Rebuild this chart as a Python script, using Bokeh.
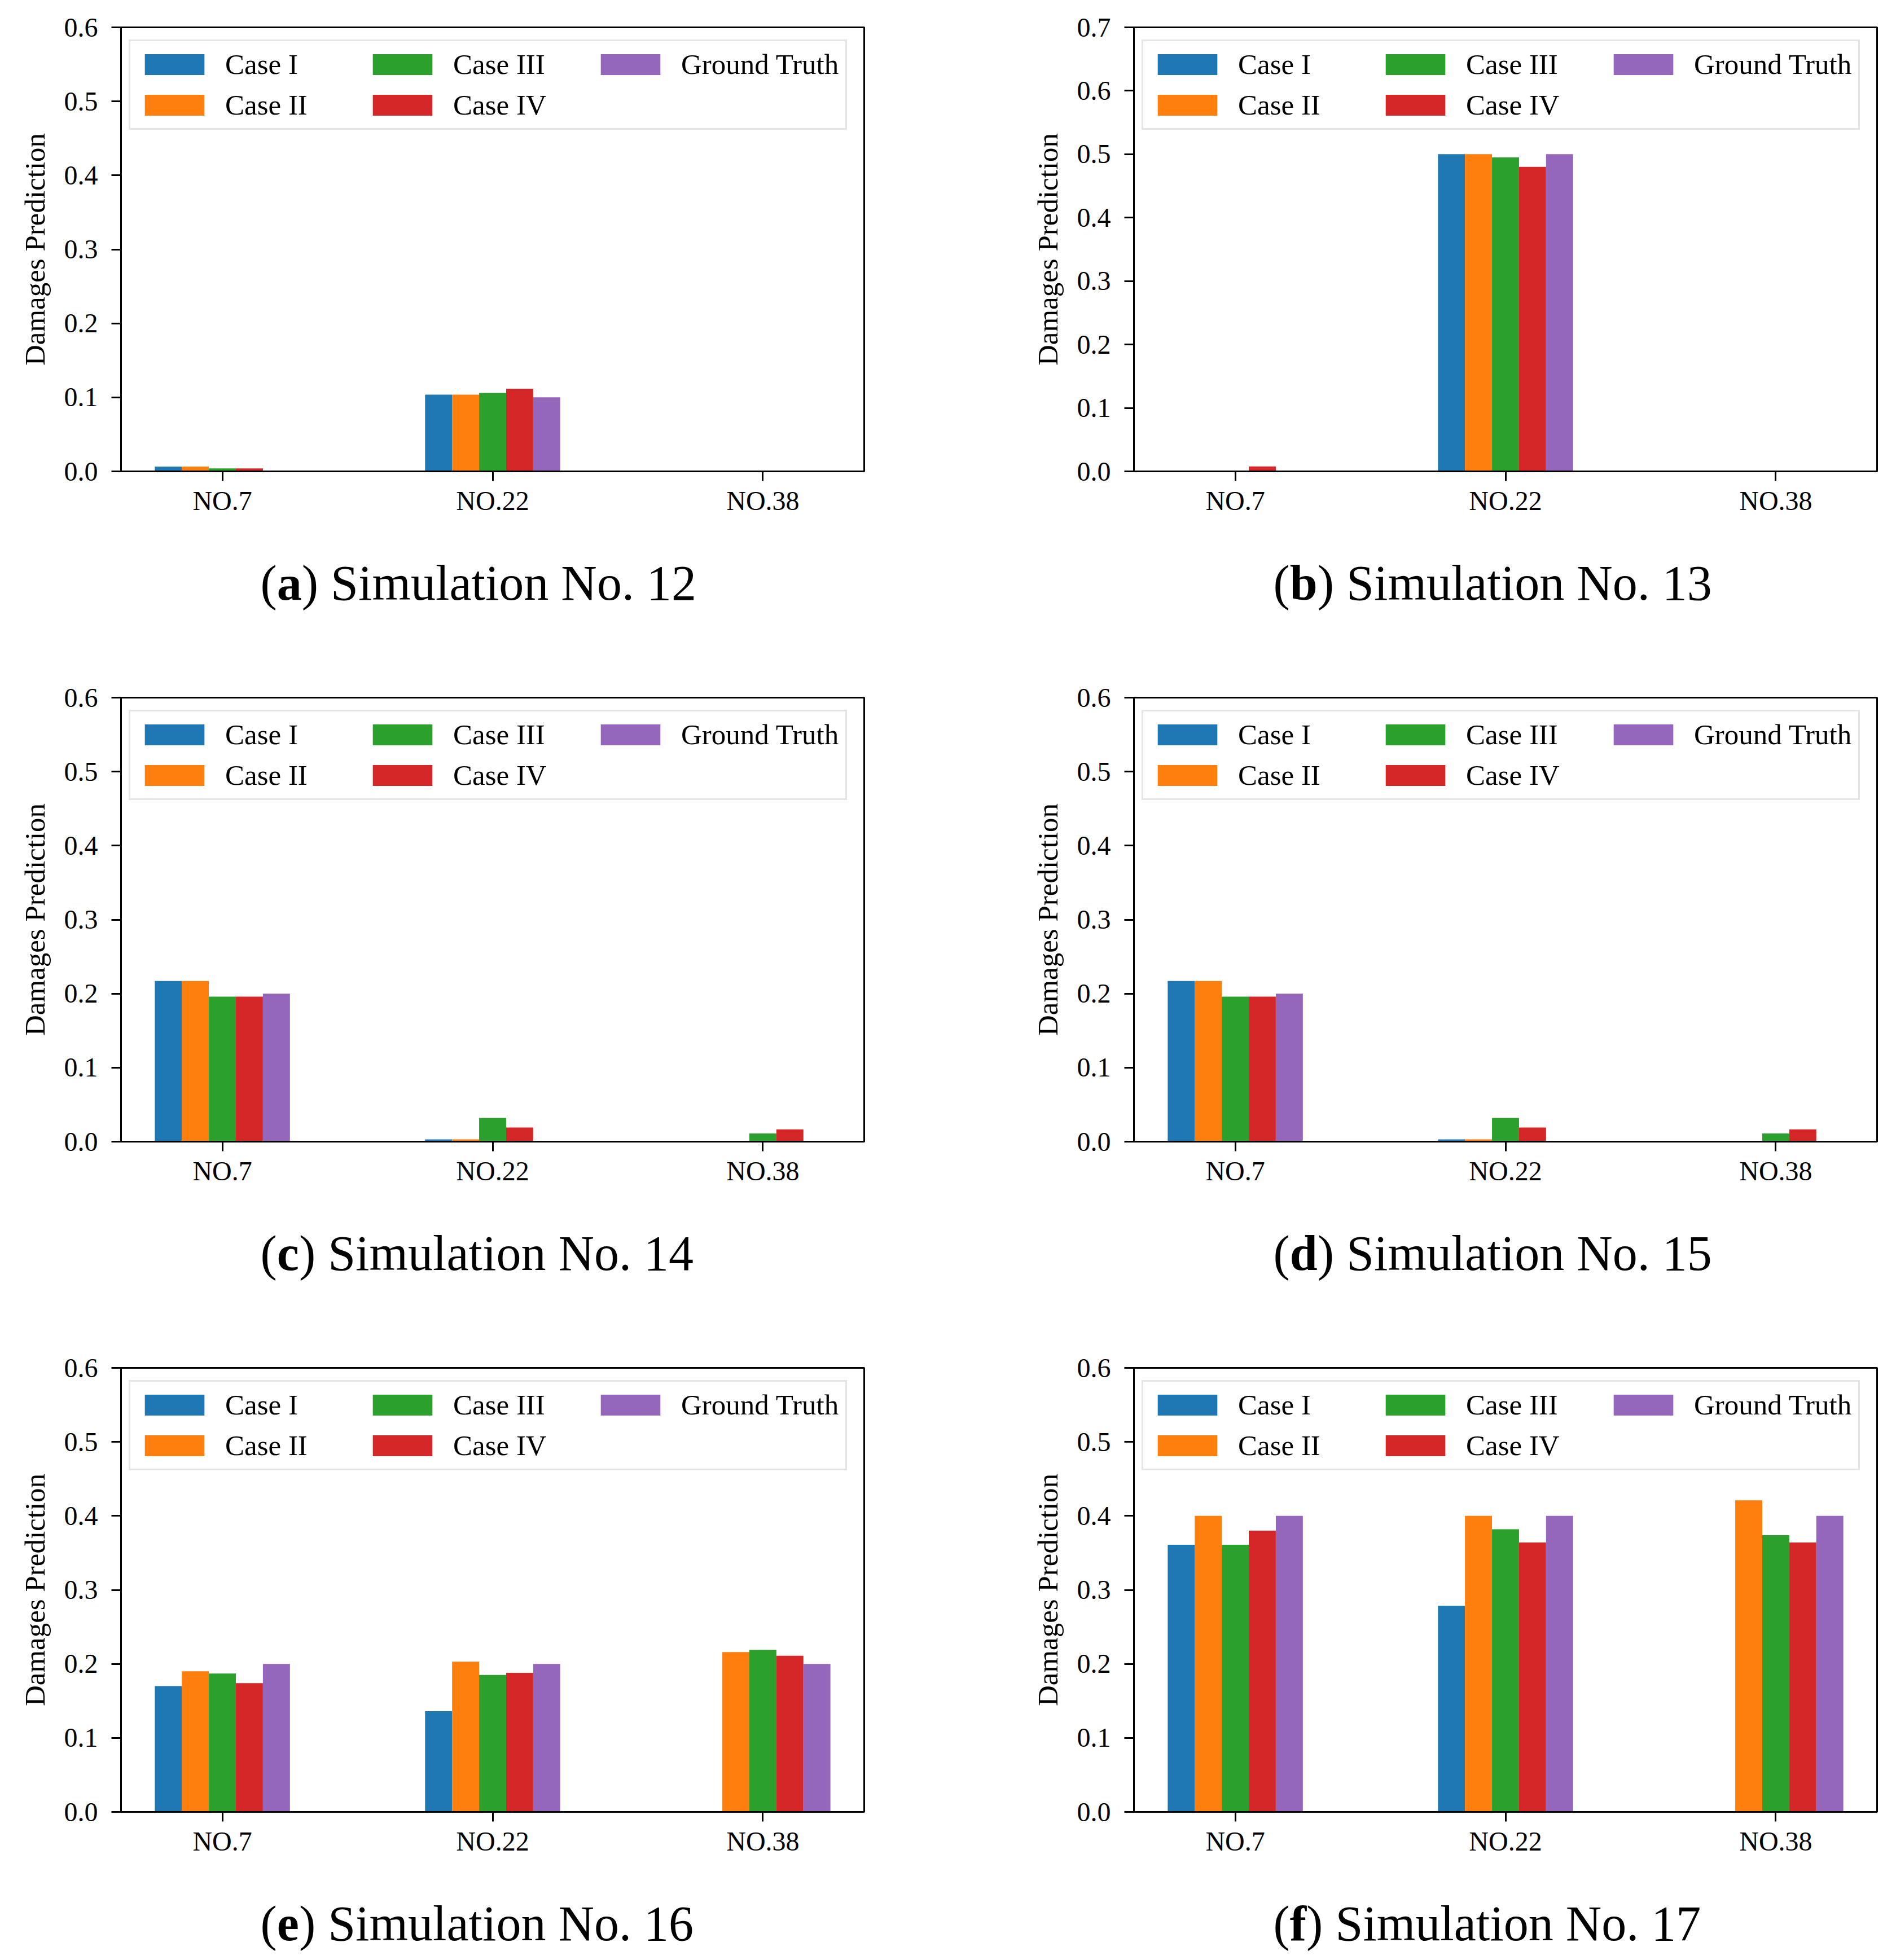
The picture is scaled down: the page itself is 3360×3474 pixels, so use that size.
from bokeh.plotting import figure
from bokeh.models import (ColumnDataSource, FixedTicker, PrintfTickFormatter,
                          Legend, LegendItem, Range1d)
from bokeh.core.properties import value
from bokeh.transform import dodge
from bokeh.layouts import gridplot
from bokeh.embed import file_html
from bokeh.resources import INLINE

# ---------------- data ----------------
categories = ["NO.7", "NO.22", "NO.38"]
series = ["Case I", "Case II", "Case III", "Case IV", "Ground Truth"]
colors = ["#1f77b4", "#ff7f0e", "#2ca02c", "#d62728", "#9467bd"]

# (a) Simulation No. 12
sim12_case1 = [0.0065, 0.1036, 0.0]
sim12_case2 = [0.0065, 0.1036, 0.0]
sim12_case3 = [0.004, 0.106, 0.0]
sim12_case4 = [0.004, 0.1116, 0.0]
sim12_truth = [0.0, 0.1, 0.0]

# (b) Simulation No. 13
sim13_case1 = [0.0, 0.5, 0.0]
sim13_case2 = [0.0, 0.5, 0.0]
sim13_case3 = [0.0, 0.495, 0.0]
sim13_case4 = [0.0077, 0.48, 0.0]
sim13_truth = [0.0, 0.5, 0.0]

# (c) Simulation No. 14
sim14_case1 = [0.217, 0.003, 0.0]
sim14_case2 = [0.217, 0.003, 0.0]
sim14_case3 = [0.196, 0.032, 0.011]
sim14_case4 = [0.196, 0.019, 0.0166]
sim14_truth = [0.2, 0.0, 0.0]

# (d) Simulation No. 15
sim15_case1 = [0.217, 0.003, 0.0]
sim15_case2 = [0.217, 0.003, 0.0]
sim15_case3 = [0.196, 0.032, 0.011]
sim15_case4 = [0.196, 0.019, 0.0166]
sim15_truth = [0.2, 0.0, 0.0]

# (e) Simulation No. 16
sim16_case1 = [0.170, 0.136, 0.0]
sim16_case2 = [0.190, 0.203, 0.216]
sim16_case3 = [0.187, 0.185, 0.219]
sim16_case4 = [0.174, 0.188, 0.211]
sim16_truth = [0.2, 0.2, 0.2]

# (f) Simulation No. 17
sim17_case1 = [0.361, 0.2785, 0.0]
sim17_case2 = [0.400, 0.400, 0.421]
sim17_case3 = [0.361, 0.382, 0.374]
sim17_case4 = [0.380, 0.364, 0.364]
sim17_truth = [0.4, 0.4, 0.4]

y_ticks_06 = [0.0, 0.1, 0.2, 0.3, 0.4, 0.5, 0.6]
y_ticks_07 = [0.0, 0.1, 0.2, 0.3, 0.4, 0.5, 0.6, 0.7]

panel_letters = ["a", "b", "c", "d", "e", "f"]
panel_sims = ["12", "13", "14", "15", "16", "17"]
panel_ymax = [0.6, 0.7, 0.6, 0.6, 0.6, 0.6]
panel_ticks = [y_ticks_06, y_ticks_07, y_ticks_06, y_ticks_06, y_ticks_06, y_ticks_06]
panel_values = [
    [sim12_case1, sim12_case2, sim12_case3, sim12_case4, sim12_truth],
    [sim13_case1, sim13_case2, sim13_case3, sim13_case4, sim13_truth],
    [sim14_case1, sim14_case2, sim14_case3, sim14_case4, sim14_truth],
    [sim15_case1, sim15_case2, sim15_case3, sim15_case4, sim15_truth],
    [sim16_case1, sim16_case2, sim16_case3, sim16_case4, sim16_truth],
    [sim17_case1, sim17_case2, sim17_case3, sim17_case4, sim17_truth],
]

# ---------------- layout constants ----------------
FONT = "Liberation Serif"
FIG_W = 1672
FRAME_W = 1317
FRAME_H = 787
TOP_BORDER = 48
CHART_BOTTOM = 100
CHART_H = TOP_BORDER + FRAME_H + CHART_BOTTOM
CAPTION_H = [1188 - CHART_H, 1188 - CHART_H, 1082 - CHART_H]
LEFT_BORDER = [214, 337]
X_START, X_END = -0.375, 2.375
BAR_W = 0.1
OFFSETS = [-0.2, -0.1, 0.0, 0.1, 0.2]
CAPTION_DY = 198 - CHART_BOTTOM   # caption centre below the top of the caption strip
BOLD_W = {"a": 0.5, "b": 0.556, "c": 0.444, "d": 0.556, "e": 0.444, "f": 0.333}
CAP_FS = 88
LEG_PAD = 12
LEG_H = LEG_PAD * 2 + 59 * 2 + 14


def make_chart(idx):
    col = idx % 2
    lb = LEFT_BORDER[col]
    rb = FIG_W - lb - FRAME_W
    ymax = panel_ymax[idx]
    p = figure(width=FIG_W, height=CHART_H, x_range=(X_START, X_END), y_range=(0, ymax),
               output_backend="svg", toolbar_location=None,
               min_border_left=lb, min_border_right=rb,
               min_border_top=TOP_BORDER, min_border_bottom=CHART_BOTTOM)
    p.xgrid.visible = False
    p.ygrid.visible = False
    p.outline_line_color = "black"
    p.outline_line_width = 3
    p.outline_line_alpha = 1.0

    data = {"x": [0, 1, 2], "cat": categories}
    for name, vals in zip(series, panel_values[idx]):
        data[name] = vals
    src = ColumnDataSource(data)

    renderers = []
    for name, color, off in zip(series, colors, OFFSETS):
        r = p.vbar(x=dodge("x", off, range=p.x_range), top=name, width=BAR_W,
                   bottom=0, source=src, fill_color=color, line_color=None)
        renderers.append(r)

    for ax in (p.xaxis[0], p.yaxis[0]):
        ax.axis_line_color = "black"
        ax.axis_line_width = 3
        ax.major_tick_line_color = "black"
        ax.major_tick_line_width = 3
        ax.major_tick_out = 17
        ax.major_tick_in = 0
        ax.minor_tick_out = 0
        ax.minor_tick_in = 0
        ax.major_label_text_font = FONT
        ax.major_label_text_font_size = "48px"
        ax.major_label_text_color = "black"

    p.xaxis.ticker = FixedTicker(ticks=[0, 1, 2])
    p.xaxis.major_label_overrides = {0: categories[0], 1: categories[1], 2: categories[2]}
    p.xaxis.major_label_standoff = 8

    p.yaxis.ticker = FixedTicker(ticks=panel_ticks[idx])
    p.yaxis.formatter = PrintfTickFormatter(format="%.1f")
    p.yaxis.major_label_standoff = 24
    p.yaxis.axis_label = "Damages Prediction"
    p.yaxis.axis_label_text_font = FONT
    p.yaxis.axis_label_text_font_size = "51px"
    p.yaxis.axis_label_text_font_style = "normal"
    p.yaxis.axis_label_text_color = "black"
    p.yaxis.axis_label_standoff = 21

    items = [LegendItem(label=s, renderers=[r]) for s, r in zip(series, renderers)]
    legend = Legend(items=items, location=(14, FRAME_H - 26 - LEG_H),
                    orientation="vertical", nrows=2,
                    label_text_font=FONT, label_text_font_size="51px",
                    label_text_color="black",
                    glyph_width=132, glyph_height=46, label_standoff=24,
                    label_width=234, spacing=14, padding=LEG_PAD, margin=0,
                    border_line_color="#cccccc", border_line_width=3,
                    background_fill_color="white", background_fill_alpha=0.8)
    p.add_layout(legend)
    return p


def make_caption(idx):
    col = idx % 2
    row = idx // 2
    h = CAPTION_H[row]
    lb = LEFT_BORDER[col]
    rb = FIG_W - lb - FRAME_W
    # frame aligned with the chart frame above; x in pixels from the frame's left
    c = figure(width=FIG_W, height=h, x_range=Range1d(0, FRAME_W), y_range=Range1d(0, h),
               output_backend="svg", toolbar_location=None,
               x_axis_type=None, y_axis_type=None,
               min_border_left=lb, min_border_right=rb, min_border_top=0, min_border_bottom=0)
    c.outline_line_color = None
    for g in c.grid:
        g.visible = False
    y = h - CAPTION_DY
    letter = panel_letters[idx]
    x0 = 247                      # left edge of "(" from frame left
    x1 = x0 + 0.333 * CAP_FS      # left edge of bold letter
    x2 = x1 + BOLD_W[letter] * CAP_FS
    x3 = x2 + 0.333 * CAP_FS + 0.25 * CAP_FS
    common = dict(text_font=value(FONT), text_font_size="%dpx" % CAP_FS,
                  text_align="left", text_baseline="middle", text_color="black")
    c.text(x=[x0], y=[y], text=["("], **common)
    c.text(x=[x1], y=[y], text=[letter], text_font_style="bold", **common)
    c.text(x=[x2], y=[y], text=[")"], **common)
    c.text(x=[x3], y=[y], text=["Simulation No. " + panel_sims[idx]], **common)
    return c


charts = [make_chart(i) for i in range(6)]
captions = [make_caption(i) for i in range(6)]
grid = gridplot([[charts[0], charts[1]], [captions[0], captions[1]],
                 [charts[2], charts[3]], [captions[2], captions[3]],
                 [charts[4], charts[5]], [captions[4], captions[5]]],
                toolbar_location=None)

open("out.html", "w").write(file_html(grid, INLINE))
